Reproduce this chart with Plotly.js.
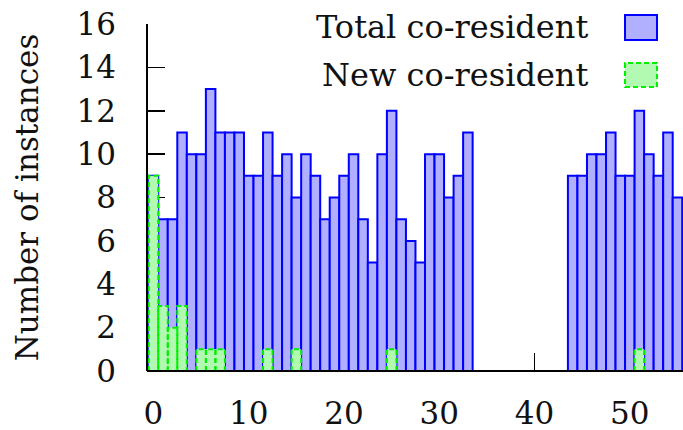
<!DOCTYPE html>
<html>
<head>
<meta charset="utf-8">
<script src="https://cdn.plot.ly/plotly-3.0.1.min.js"></script>
<style>html,body{margin:0;padding:0;background:#fff;}#chart{width:683px;height:430px;}</style>
</head>
<body>
<div id="chart"></div>
<script>
// x positions of the bars
const xValues = [0,1,2,3,4,5,6,7,8,9,10,11,12,13,14,15,16,17,18,19,20,21,22,23,24,25,26,27,28,29,30,31,32,33,
                 44,45,46,47,48,49,50,51,52,53,54,55];
// Total co-resident instances
const totalCoResident = [9,7,7,11,10,10,13,11,11,11,9,9,11,9,10,8,10,9,7,8,9,10,7,5,10,12,7,6,5,10,10,8,9,11,
                         9,9,10,10,11,9,9,12,10,9,11,8];
// New co-resident instances
const newCoResident = [9,3,2,3,0,1,1,1,0,0,0,0,1,0,0,1,0,0,0,0,0,0,0,0,0,1,0,0,0,0,0,0,0,0,
                       0,0,0,0,0,0,0,1,0,0,0,0];
const xTicks = [0,10,20,30,40,50];
const yTicks = [0,2,4,6,8,10,12,14,16];
const legendLabels = ['Total co-resident','New co-resident'];

const FONT = 'DejaVu Serif, serif';

// dashed boxes for the "new" series (bar outlines cannot be dashed in plotly)
const gx = [], gy = [];
xValues.forEach((x, i) => {
  const v = newCoResident[i];
  gx.push(x - 0.5, x - 0.5, x + 0.5, x + 0.5, x - 0.5, null);
  gy.push(0, v, v, 0, 0, null);
});

const traces = [
  {
    type: 'bar', x: xValues, y: totalCoResident, width: 1,
    marker: {color: '#b0b0ff', line: {color: '#0000ff', width: 2}},
    name: legendLabels[0], hoverinfo: 'x+y'
  },
  {
    type: 'scatter', mode: 'lines', x: gx, y: gy, fill: 'toself',
    fillcolor: '#b2f9b2', line: {color: '#00f000', width: 2, dash: '5px,3px'},
    name: legendLabels[1], connectgaps: false, hoverinfo: 'skip'
  }
];

const layout = {
  width: 683, height: 430,
  margin: {l: 147, r: 0, t: 24, b: 59},
  paper_bgcolor: '#fff', plot_bgcolor: '#fff',
  showlegend: false,
  barmode: 'overlay',
  font: {family: FONT, size: 31, color: '#111'},
  xaxis: {
    range: [-0.68, 55.58], tickvals: xTicks, ticktext: xTicks.map(String),
    ticks: 'inside', ticklen: 18, tickwidth: 1.5, tickcolor: '#000',
    showgrid: false, zeroline: false, showline: false, layer: 'below traces',
    ticklabelstandoff: 21, tickfont: {family: FONT, size: 31, color: '#111'}
  },
  yaxis: {
    range: [0, 16], tickvals: yTicks, ticktext: yTicks.map(String),
    ticks: 'inside', ticklen: 18, tickwidth: 1.5, tickcolor: '#000',
    showgrid: false, zeroline: false, showline: false, layer: 'below traces',
    ticklabelstandoff: 30, tickfont: {family: FONT, size: 31, color: '#111'},
    title: {text: 'Number of instances', font: {family: FONT, size: 31, color: '#111'}, standoff: 28}
  },
  shapes: [
    // axis lines
    {type: 'line', xref: 'paper', yref: 'paper', x0: 0, x1: 0, y0: 0, y1: 1, line: {color: '#000', width: 2}, layer: 'above'},
    {type: 'line', xref: 'paper', yref: 'paper', x0: 0, x1: 1, y0: 0, y1: 0, line: {color: '#000', width: 2}, layer: 'above'},
    // legend samples
    {type: 'rect', xref: 'paper', yref: 'paper', x0: 0.8918, x1: 0.9515, y0: 0.9539, y1: 1.0259,
     fillcolor: '#b0b0ff', line: {color: '#0000ff', width: 2}},
    {type: 'rect', xref: 'paper', yref: 'paper', x0: 0.8918, x1: 0.9515, y0: 0.8184, y1: 0.8876,
     fillcolor: '#b2f9b2', line: {color: '#00f000', width: 2, dash: '5px,3px'}}
  ],
  annotations: [
    {xref: 'paper', yref: 'paper', x: 0.8265, y: 0.99, xanchor: 'right', yanchor: 'middle',
     text: legendLabels[0], showarrow: false, font: {family: FONT, size: 32, color: '#111'}},
    {xref: 'paper', yref: 'paper', x: 0.8265, y: 0.853, xanchor: 'right', yanchor: 'middle',
     text: legendLabels[1], showarrow: false, font: {family: FONT, size: 32, color: '#111'}}
  ]
};

Plotly.newPlot('chart', traces, layout, {staticPlot: true, displayModeBar: false});
</script>
</body>
</html>
